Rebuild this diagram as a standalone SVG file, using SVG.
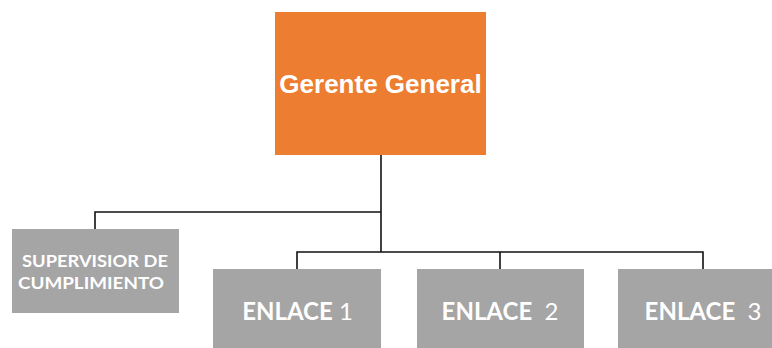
<svg xmlns="http://www.w3.org/2000/svg" width="772" height="348" viewBox="0 0 772 348">
<style>
.conn{fill:none;stroke:#111;stroke-width:1.6}
.grey{fill:#A5A5A5}
.lbl{fill:#fff;font-family:Lato,"Liberation Sans",sans-serif;text-anchor:middle;white-space:pre}
</style>
<rect width="772" height="348" fill="#fff"/>
<g id="connectors">
<path class="conn" d="M381,155 V252"/>
<path class="conn" d="M381,212 H95 V229"/>
<path class="conn" d="M297,269 V252 H703 V269"/>
<path class="conn" d="M500,252 V269"/>
</g>
<g id="gerente">
<rect x="275" y="12" width="211" height="143" fill="#ED7D31"/>
<text x="380.5" y="93" fill="#fff" font-family="'Liberation Sans',Arial,sans-serif" font-weight="bold" font-size="26" text-anchor="middle">Gerente General</text>
</g>
<g id="supervisor">
<rect class="grey" x="12" y="229" width="167" height="84"/>
<text class="lbl" x="95" y="267" font-weight="bold" font-size="17.5" textLength="146" lengthAdjust="spacingAndGlyphs">SUPERVISIOR DE</text>
<text class="lbl" x="91" y="289" font-weight="bold" font-size="17.5" textLength="146" lengthAdjust="spacingAndGlyphs">CUMPLIMIENTO</text>
</g>
<g id="enlace1">
<rect class="grey" x="213" y="269" width="168" height="79"/>
<text class="lbl" x="297.5" y="320" font-size="24"><tspan font-weight="bold">ENLACE</tspan> 1</text>
</g>
<g id="enlace2">
<rect class="grey" x="417" y="269" width="167" height="79"/>
<text class="lbl" x="500" y="320" font-size="24"><tspan font-weight="bold">ENLACE</tspan>  2</text>
</g>
<g id="enlace3">
<rect class="grey" x="618" y="269" width="170" height="79"/>
<text class="lbl" x="703" y="320" font-size="24"><tspan font-weight="bold">ENLACE</tspan>  3</text>
</g>
</svg>
